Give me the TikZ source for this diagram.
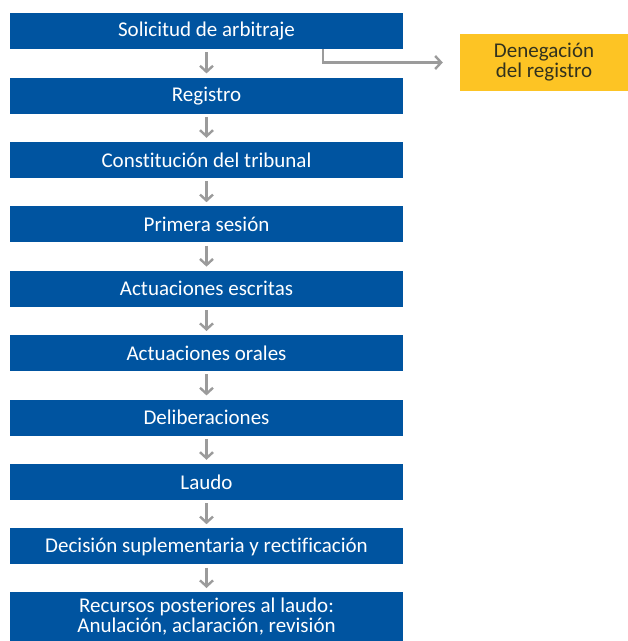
\documentclass[tikz,border=0pt]{standalone}
\usepackage{fontspec}
\setmainfont{Carlito}[Ligatures=NoCommon]
\usetikzlibrary{arrows.meta,calc}
\definecolor{boxblue}{RGB}{0,84,160}
\definecolor{boxyellow}{RGB}{253,196,36}
\definecolor{arrgray}{RGB}{155,155,155}
\definecolor{darktext}{RGB}{50,50,30}
\begin{document}
\begin{tikzpicture}[x=1pt,y=-1pt,
  stepbox/.style={fill=boxblue,draw=none,minimum width=393pt,minimum height=36pt,inner sep=0pt,
    text=white,font=\fontsize{21}{20}\selectfont,align=center,anchor=north},
  flow/.style={draw=arrgray,line width=2.4pt,-{Straight Barb[length=6pt,width=13pt,line width=2.4pt]}}]
\useasboundingbox (0,0) rectangle (628,641);
\foreach \n/\t [count=\i from 0] in {s1/Solicitud de arbitraje,s2/Registro,s3/Constitución del tribunal,s4/Primera sesión,s5/Actuaciones escritas,s6/Actuaciones orales,s7/Deliberaciones,s8/Laudo,s9/Decisión suplementaria y rectificación}{
  \node[stepbox] (\n) at (206.5,{13+64.4*\i}) {\t};
}
\node[stepbox,minimum height=49pt] (s10) at (206.5,592) {Recursos posteriores al laudo:\\Anulación, aclaración, revisión};
\foreach \a/\b in {s1/s2,s2/s3,s3/s4,s4/s5,s5/s6,s6/s7,s7/s8,s8/s9,s9/s10}{
  \draw[flow,shorten <=3pt,shorten >=4pt] (\a.south) -- (\b.north);
}
\node[fill=boxyellow,minimum width=168pt,minimum height=57pt,inner sep=0pt,text=darktext,
  font=\fontsize{21}{20}\selectfont,align=center] (d) at (544,62.5) {Denegación\\del registro};
\coordinate (b) at (323,62.5);
\draw[flow,shorten >=17pt] (s1.south -| b) |- (d.west);
\end{tikzpicture}
\end{document}
